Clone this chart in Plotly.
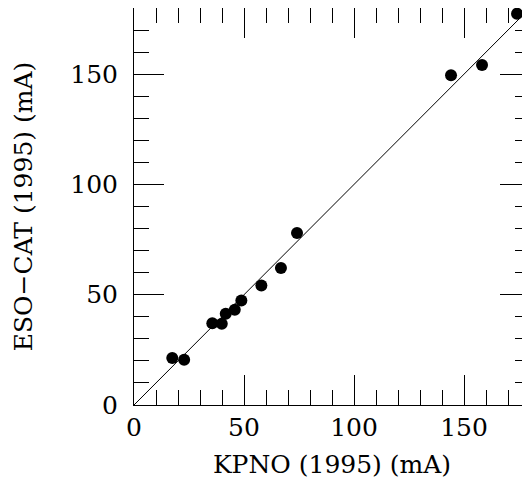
import plotly.graph_objects as go

# Data
kpno_ma = [17.4, 22.8, 35.6, 39.9, 41.7, 45.8, 48.8, 57.9, 66.8, 74.1, 144.1, 158.2, 174.1]
eso_cat_ma = [21.3, 20.5, 37.1, 36.8, 41.4, 43.2, 47.4, 54.2, 62.1, 78.0, 149.5, 154.2, 177.4]
one_to_one = [0, 180]
tick_vals = [0, 50, 100, 150]
tick_text = ["0", "50", "100", "150"]

FONT = "DejaVu Serif"
FS = 25

fig = go.Figure()
fig.add_trace(go.Scatter(x=one_to_one, y=one_to_one, mode="lines",
                         line=dict(color="black", width=1), hoverinfo="skip"))
fig.add_trace(go.Scatter(x=kpno_ma, y=eso_cat_ma, mode="markers",
                         marker=dict(color="black", size=12)))

axis_common = dict(
    range=[0, 180], showgrid=False, zeroline=False,
    showline=True, linecolor="black", linewidth=1, mirror="ticks",
    ticks="inside", ticklen=30, tickwidth=1, tickcolor="black",
    tickvals=tick_vals, ticktext=tick_text,
    tickfont=dict(family=FONT, size=FS, color="black"),
    minor=dict(dtick=10, ticks="inside", ticklen=15, tickwidth=1, tickcolor="black"),
)

fig.update_layout(
    width=522, height=475,
    margin=dict(l=126, r=0, t=0, b=78),
    paper_bgcolor="white", plot_bgcolor="white",
    showlegend=False,
    xaxis=dict(**axis_common, ticklabelstandoff=0,
               title=dict(text="KPNO (1995) (mA)", font=dict(family=FONT, size=FS, color="black"), standoff=14)),
    yaxis=dict(**axis_common, ticklabelstandoff=10,
               title=dict(text="ESO\u2212CAT (1995) (mA)", font=dict(family=FONT, size=FS, color="black"), standoff=30)),
)

fig.write_html("out.html")
